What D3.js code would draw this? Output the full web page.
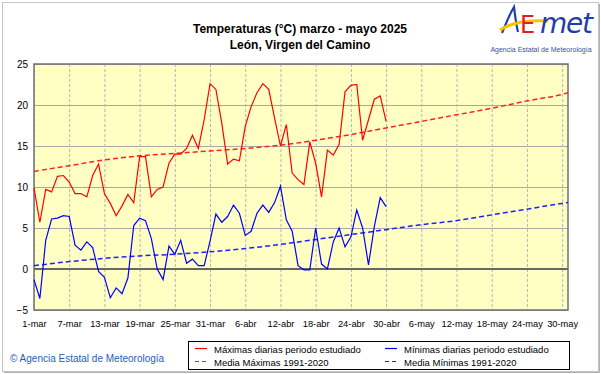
<!DOCTYPE html>
<html>
<head>
<meta charset="utf-8">
<script src="https://cdn.jsdelivr.net/npm/d3@7"></script>
<style>
  body { margin: 0; background: #fff; }
  svg text { font-family: "Liberation Sans", Arial, sans-serif; }
</style>
</head>
<body>
<div id="chart"></div>
<script>
// datos: dia 0 = 1-mar
var tickDias = [0, 6, 12, 18, 24, 30, 36, 42, 48, 54, 60, 66, 72, 78, 84, 90];
var tickLabels = ["1-mar", "7-mar", "13-mar", "19-mar", "25-mar", "31-mar", "6-abr", "12-abr",
  "18-abr", "24-abr", "30-abr", "6-may", "12-may", "18-may", "24-may", "30-may"];
var yTicks = [-5, 0, 5, 10, 15, 20, 25];

// maximas y minimas diarias, 1-mar .. 30-abr
var tmax = [9.9, 5.7, 9.7, 9.4, 11.3, 11.4, 10.6, 9.2, 9.2, 8.8,
  11.4, 12.8, 9.2, 8.0, 6.5, 7.7, 9.1, 8.1, 13.7, 13.7,
  8.8, 9.7, 10.0, 12.9, 14.0, 14.0, 14.7, 16.3, 14.7, 18.2,
  22.6, 21.9, 17.8, 12.8, 13.4, 13.2, 17.4, 19.8, 21.5, 22.6,
  21.9, 18.4, 15.0, 17.6, 11.7, 10.9, 10.3, 15.5, 12.9, 8.8,
  14.5, 13.9, 15.2, 21.6, 22.4, 22.5, 15.7, 18.2, 20.7, 21.1, 18.0];
var tmin = [-1.3, -3.6, 3.5, 6.1, 6.2, 6.5, 6.4, 2.9, 2.3, 3.3,
  2.6, -0.3, -1.0, -3.5, -2.3, -3.0, -1.1, 5.3, 6.2, 5.9,
  3.7, 0.0, -1.3, 2.8, 1.8, 3.5, 0.7, 1.2, 0.4, 0.4,
  3.4, 6.7, 5.7, 6.4, 7.8, 6.8, 4.1, 4.6, 6.8, 7.8,
  6.9, 8.1, 10.1, 6.0, 4.6, 0.4, -0.1, -0.1, 5.0, 0.6,
  0.0, 3.3, 5.0, 2.7, 3.9, 7.2, 5.0, 0.5, 5.2, 8.7, 7.6];

// medias 1991-2020 (leidas cada 6 dias)
var mediaDias = [0, 6, 12, 18, 24, 30, 36, 42, 48, 54, 60, 66, 72, 78, 84, 90, 91];
var mediaMax = [11.9, 12.6, 13.3, 13.8, 14.1, 14.4, 14.7, 15.1, 15.7, 16.4, 17.2, 18.0, 18.8, 19.6, 20.5, 21.3, 21.5];
var mediaMin = [0.4, 0.9, 1.3, 1.6, 1.8, 2.1, 2.5, 3.0, 3.6, 4.2, 4.8, 5.4, 5.9, 6.6, 7.3, 8.0, 8.1];

var W = 601, H = 374;
var margin = { top: 64, right: 33, bottom: 64, left: 34 },
  width = W - margin.left - margin.right,
  height = H - margin.top - margin.bottom;

var root = d3.select("#chart")
  .append("svg")
  .attr("width", W)
  .attr("height", H);

// marco exterior
root.append("rect")
  .attr("x", 2.5).attr("y", 2.5)
  .attr("width", W - 5).attr("height", H - 5)
  .attr("fill", "#fff")
  .attr("stroke", "#8a8a8a")
  .attr("stroke-dasharray", "1,1");
root.append("path")
  .attr("d", "M4," + (H - 1.5) + " H" + (W - 1.5) + " V4")
  .attr("fill", "none").attr("stroke", "#b0b0b0");

var svg = root.append("g")
  .attr("transform", "translate(" + margin.left + "," + margin.top + ")");

var x = d3.scaleLinear().domain([0, 91]).range([0, width]);
var y = d3.scaleLinear().domain([-5, 25]).range([height, 0]);

// fondo
svg.append("rect")
  .attr("width", width)
  .attr("height", height)
  .attr("fill", "#ffffc4");

// rejilla horizontal
svg.append("g")
  .call(d3.axisLeft(y).tickValues(yTicks).tickSize(-width).tickFormat(""))
  .call(function (g) {
    g.select(".domain").remove();
    g.selectAll(".tick line").attr("stroke", "#a8a8a8");
  });

// rejilla vertical
svg.append("g")
  .call(d3.axisBottom(x).tickValues(tickDias).tickSize(height).tickFormat(""))
  .call(function (g) {
    g.select(".domain").remove();
    g.selectAll(".tick line").attr("stroke", "#b4b4b4").attr("stroke-dasharray", "3,2");
  });

// linea del cero
svg.append("line")
  .attr("x1", 0).attr("x2", width)
  .attr("y1", y(0)).attr("y2", y(0))
  .attr("stroke", "#666")
  .attr("stroke-width", 2);

// borde del grafico
svg.append("rect")
  .attr("width", width)
  .attr("height", height)
  .attr("fill", "none")
  .attr("stroke", "#707070")
  .attr("stroke-width", 1.5);

// eje Y
svg.append("g")
  .call(d3.axisLeft(y).tickValues(yTicks).tickSize(0).tickPadding(6))
  .call(function (g) {
    g.select(".domain").remove();
    g.selectAll("text").attr("font-size", "10px").attr("fill", "#000")
      .style("font-family", "'Liberation Sans', Arial, sans-serif");
  });

// eje X
svg.append("g")
  .attr("transform", "translate(0," + height + ")")
  .call(d3.axisBottom(x).tickValues(tickDias).tickSize(0).tickPadding(10)
    .tickFormat(function (d, i) { return tickLabels[i]; }))
  .call(function (g) {
    g.select(".domain").remove();
    g.selectAll("text").attr("font-size", "9.3px").attr("fill", "#000")
      .style("font-family", "'Liberation Sans', Arial, sans-serif");
  });

var marks = svg.append("g");

// medias
var mediaLine = function (vals) {
  return d3.line()
    .x(function (d, i) { return x(mediaDias[i]); })
    .y(function (d) { return y(d); })
    .curve(d3.curveMonotoneX)(vals);
};
marks.append("path")
  .attr("d", mediaLine(mediaMax))
  .attr("fill", "none").attr("stroke", "#ff2020")
  .attr("stroke-width", 1.5).attr("stroke-dasharray", "5,3");
marks.append("path")
  .attr("d", mediaLine(mediaMin))
  .attr("fill", "none").attr("stroke", "#2020ff")
  .attr("stroke-width", 1.5).attr("stroke-dasharray", "5,3");

// diarias
var diaLine = d3.line()
  .x(function (d, i) { return x(i); })
  .y(function (d) { return y(d); });
marks.append("path")
  .attr("d", diaLine(tmax))
  .attr("fill", "none").attr("stroke", "#ff0000").attr("stroke-width", 1.2);
marks.append("path")
  .attr("d", diaLine(tmin))
  .attr("fill", "none").attr("stroke", "#0000ff").attr("stroke-width", 1.2);

// titulo
root.append("text")
  .attr("x", 300).attr("y", 33)
  .attr("text-anchor", "middle")
  .attr("font-size", "12px").attr("font-weight", "bold")
  .text("Temperaturas (°C) marzo - mayo 2025");
root.append("text")
  .attr("x", 300).attr("y", 49)
  .attr("text-anchor", "middle")
  .attr("font-size", "12px").attr("font-weight", "bold")
  .text("León, Virgen del Camino");

// logo AEMET
var logo = root.append("g");
logo.append("path")
  .attr("d", "M502,33 C506,24 509,15 514,7 C515,15 516,24 518,32")
  .attr("fill", "none").attr("stroke", "#1f3fa8").attr("stroke-width", 2.2);
logo.append("path")
  .attr("d", "M500,30 C512,22 530,20 548,21")
  .attr("fill", "none").attr("stroke", "#f5c400").attr("stroke-width", 3);
logo.append("text")
  .attr("x", 520).attr("y", 33)
  .attr("font-size", "24px").attr("fill", "#e02020")
  .style("font-family", "'DejaVu Sans', sans-serif")
  .text("E");
logo.append("text")
  .attr("x", 540).attr("y", 33)
  .attr("font-size", "28px").attr("font-style", "italic").attr("fill", "#1f3fa8")
  .style("font-family", "'DejaVu Sans', sans-serif")
  .attr("textLength", 53)
  .text("met");
logo.append("text")
  .attr("x", 541).attr("y", 52)
  .attr("text-anchor", "middle")
  .attr("font-size", "7px").attr("fill", "#3a4fa0")
  .text("Agencia Estatal de Meteorología");

// copyright
root.append("text")
  .attr("x", 10).attr("y", 362)
  .attr("font-size", "10px").attr("fill", "#2a5bbd")
  .text("© Agencia Estatal de Meteorología");

// leyenda
var legend = root.append("g");
legend.append("rect")
  .attr("x", 188.5).attr("y", 341.5)
  .attr("width", 381).attr("height", 28)
  .attr("fill", "#fff").attr("stroke", "#000");

var items = [
  { t: "Máximas diarias periodo estudiado", c: "#ff0000", d: null, lx: 195, ly: 349 },
  { t: "Media Máximas 1991-2020", c: "#ff2020", d: "4,3", lx: 195, ly: 362 },
  { t: "Mínimas diarias periodo estudiado", c: "#0000ff", d: null, lx: 385, ly: 349 },
  { t: "Media Mínimas 1991-2020", c: "#2020ff", d: "4,3", lx: 385, ly: 362 }
];
items.forEach(function (it) {
  legend.append("line")
    .attr("x1", it.lx).attr("x2", it.lx + 12)
    .attr("y1", it.ly - 0.5).attr("y2", it.ly - 0.5)
    .attr("stroke", it.c).attr("stroke-width", 1.2)
    .attr("stroke-dasharray", it.d);
  legend.append("text")
    .attr("x", it.lx + 19).attr("y", it.ly + 3.5)
    .attr("font-size", "9.5px")
    .text(it.t);
});
</script>
</body>
</html>
